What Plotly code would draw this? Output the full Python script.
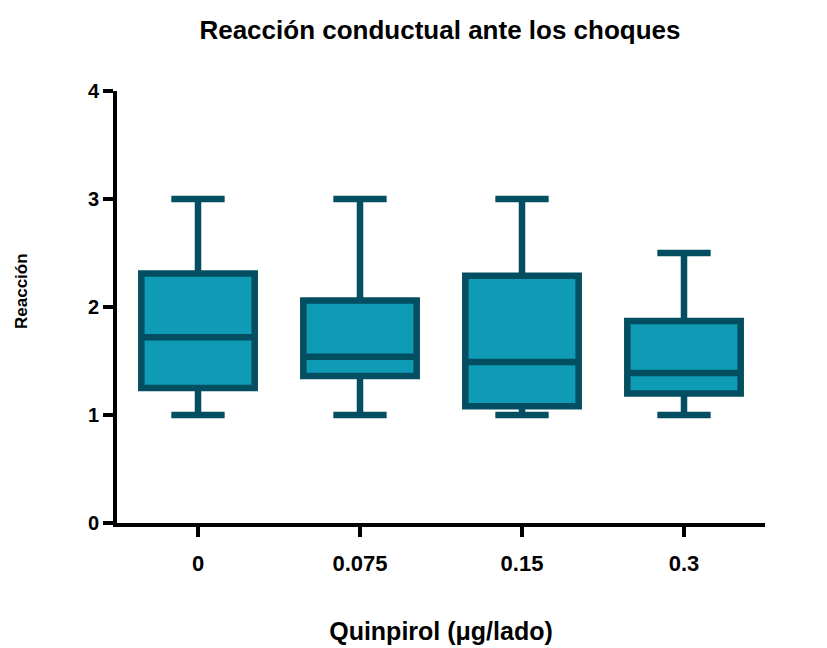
import plotly.graph_objects as go

categories = ["0", "0.075", "0.15", "0.3"]
minimum = [1.0, 1.0, 1.0, 1.0]
q1 = [1.25, 1.36, 1.08, 1.20]
median = [1.72, 1.54, 1.49, 1.39]
q3 = [2.31, 2.06, 2.29, 1.87]
maximum = [3.0, 3.0, 3.0, 2.5]

title_text = "Reacción conductual ante los choques"
x_title = "Quinpirol (μg/lado)"
y_title = "Reacción"

edge = "#034e60"
fill = "#0f9ab5"
font_family = "Liberation Sans, Arial, sans-serif"

fig = go.Figure()
fig.add_trace(go.Box(
    x=categories,
    q1=q1, median=median, q3=q3,
    lowerfence=minimum, upperfence=maximum,
    boxpoints=False,
    line=dict(color=edge, width=6.5),
    fillcolor=fill,
    whiskerwidth=0.47,
    hoverinfo="skip",
    showlegend=False,
))

fig.update_layout(
    width=827, height=648,
    margin=dict(l=117, r=62, t=91, b=125),
    paper_bgcolor="white", plot_bgcolor="white",
    boxgap=0.3, boxgroupgap=0,
    font=dict(family=font_family, color="black"),
    title=dict(text=title_text, x=0.532, xanchor="center",
               y=1 - 30 / 648, yanchor="middle", yref="container",
               font=dict(size=26, weight="bold", family=font_family)),
    annotations=[dict(
        text=y_title, textangle=-90, showarrow=False,
        xref="paper", yref="paper",
        x=(21 - 117) / 648, y=(523 - 291) / 432,
        xanchor="center", yanchor="middle",
        font=dict(size=17, weight="bold", family=font_family),
    )],
)
fig.update_xaxes(
    type="category", range=[-0.5, 3.5], automargin=False,
    showline=True, linewidth=4, linecolor="black",
    ticks="outside", ticklen=10, tickwidth=4, tickcolor="black",
    tickfont=dict(size=22, weight="bold"),
    ticklabelstandoff=8,
    showgrid=False, zeroline=False,
    title=dict(text=x_title, standoff=48,
               font=dict(size=25, weight="bold")),
)
fig.update_yaxes(
    range=[0, 4], tickvals=[0, 1, 2, 3, 4], automargin=False,
    showline=True, linewidth=4, linecolor="black",
    ticks="outside", ticklen=10, tickwidth=4, tickcolor="black",
    tickfont=dict(size=20, weight="bold"),
    showgrid=False, zeroline=False,
)

fig.write_html("out.html")
